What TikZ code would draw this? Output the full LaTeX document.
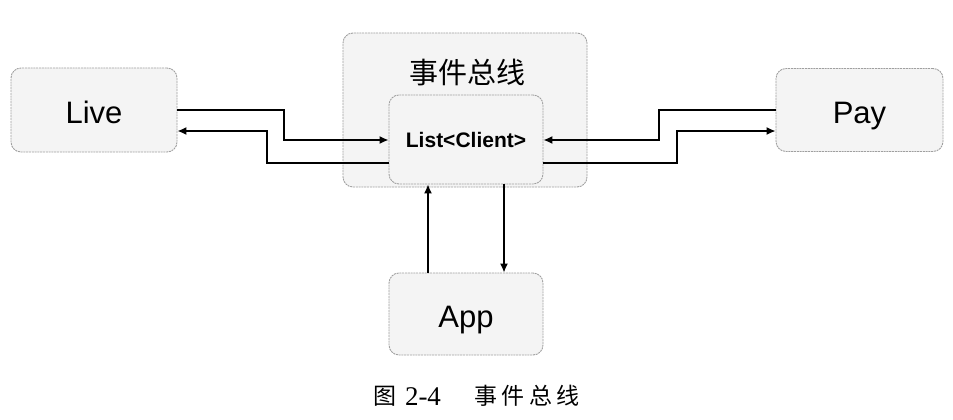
\documentclass[tikz,border=0pt]{standalone}
\usepackage{fontspec}
\setmainfont{Liberation Sans}
\newfontfamily\cjk{Noto Sans CJK SC}
\newfontfamily\capserif{Liberation Serif}
\usetikzlibrary{arrows.meta}
\begin{document}
\begin{tikzpicture}[x=1pt,y=-1pt,
  box/.style={draw=gray!75, dash pattern=on 2pt off 0.8pt, line width=0.9pt, fill=gray!9, rounded corners=10pt, inner sep=0pt},
  big/.style={font=\fontsize{31}{34}\selectfont, text height=26pt, text depth=0pt},
  arr/.style={line width=1.4pt, -{Latex[length=9pt,width=8pt]}},
  captext/.style={font=\cjk\fontsize{23}{25}\selectfont, inner sep=0pt}]
\useasboundingbox (0,0) rectangle (953,420);
\node[box, minimum width=244pt, minimum height=154pt] (bus) at (465,110) {};
\node[font=\cjk\fontsize{29}{32}\selectfont] (title) at (467,72) {事件总线};
\node[box, minimum width=154pt, minimum height=89pt, font=\bfseries\fontsize{21}{24}\selectfont] (list) at (466,139.5) {List<Client>};
\node[box, big, minimum width=166pt, minimum height=84pt] (live) at (94,110) {Live};
\node[box, big, minimum width=167pt, minimum height=83pt] (pay) at (859.5,110) {Pay};
\node[box, big, minimum width=154pt, minimum height=82pt] (app) at (466,314) {App};
% Live <-> List
\coordinate (a1) at (284,110);
\coordinate (a2) at (284,140);
\draw[arr] (live.east) -- (a1) -- (a2) -- (list.west |- a2);
\coordinate (b1) at (267,163);
\coordinate (b2) at (267,131);
\draw[arr] (list.west |- b1) -- (b1) -- (b2) -- (live.east |- b2);
% Pay <-> List
\coordinate (c1) at (659,110);
\coordinate (c2) at (659,140);
\draw[arr] (pay.west) -- (c1) -- (c2) -- (list.east |- c2);
\coordinate (d1) at (677,163);
\coordinate (d2) at (677,131);
\draw[arr] (list.east |- d1) -- (d1) -- (d2) -- (pay.west |- d2);
% App <-> List
\coordinate (e1) at (428,250);
\coordinate (f1) at (504,250);
\draw[arr] (app.north -| e1) -- (list.south -| e1);
\draw[arr] (list.south -| f1) -- (app.north -| f1);
% caption
\node[captext] (cap1) at (384.5,396) {图};
\node[captext, font=\capserif\fontsize{27}{29}\selectfont] (cap2) at (423,397) {2-4};
\node[captext, anchor=west] (cap3) at (474,396) {事\hspace{4.5pt}件\hspace{4.5pt}总\hspace{4.5pt}线};
\end{tikzpicture}
\end{document}
